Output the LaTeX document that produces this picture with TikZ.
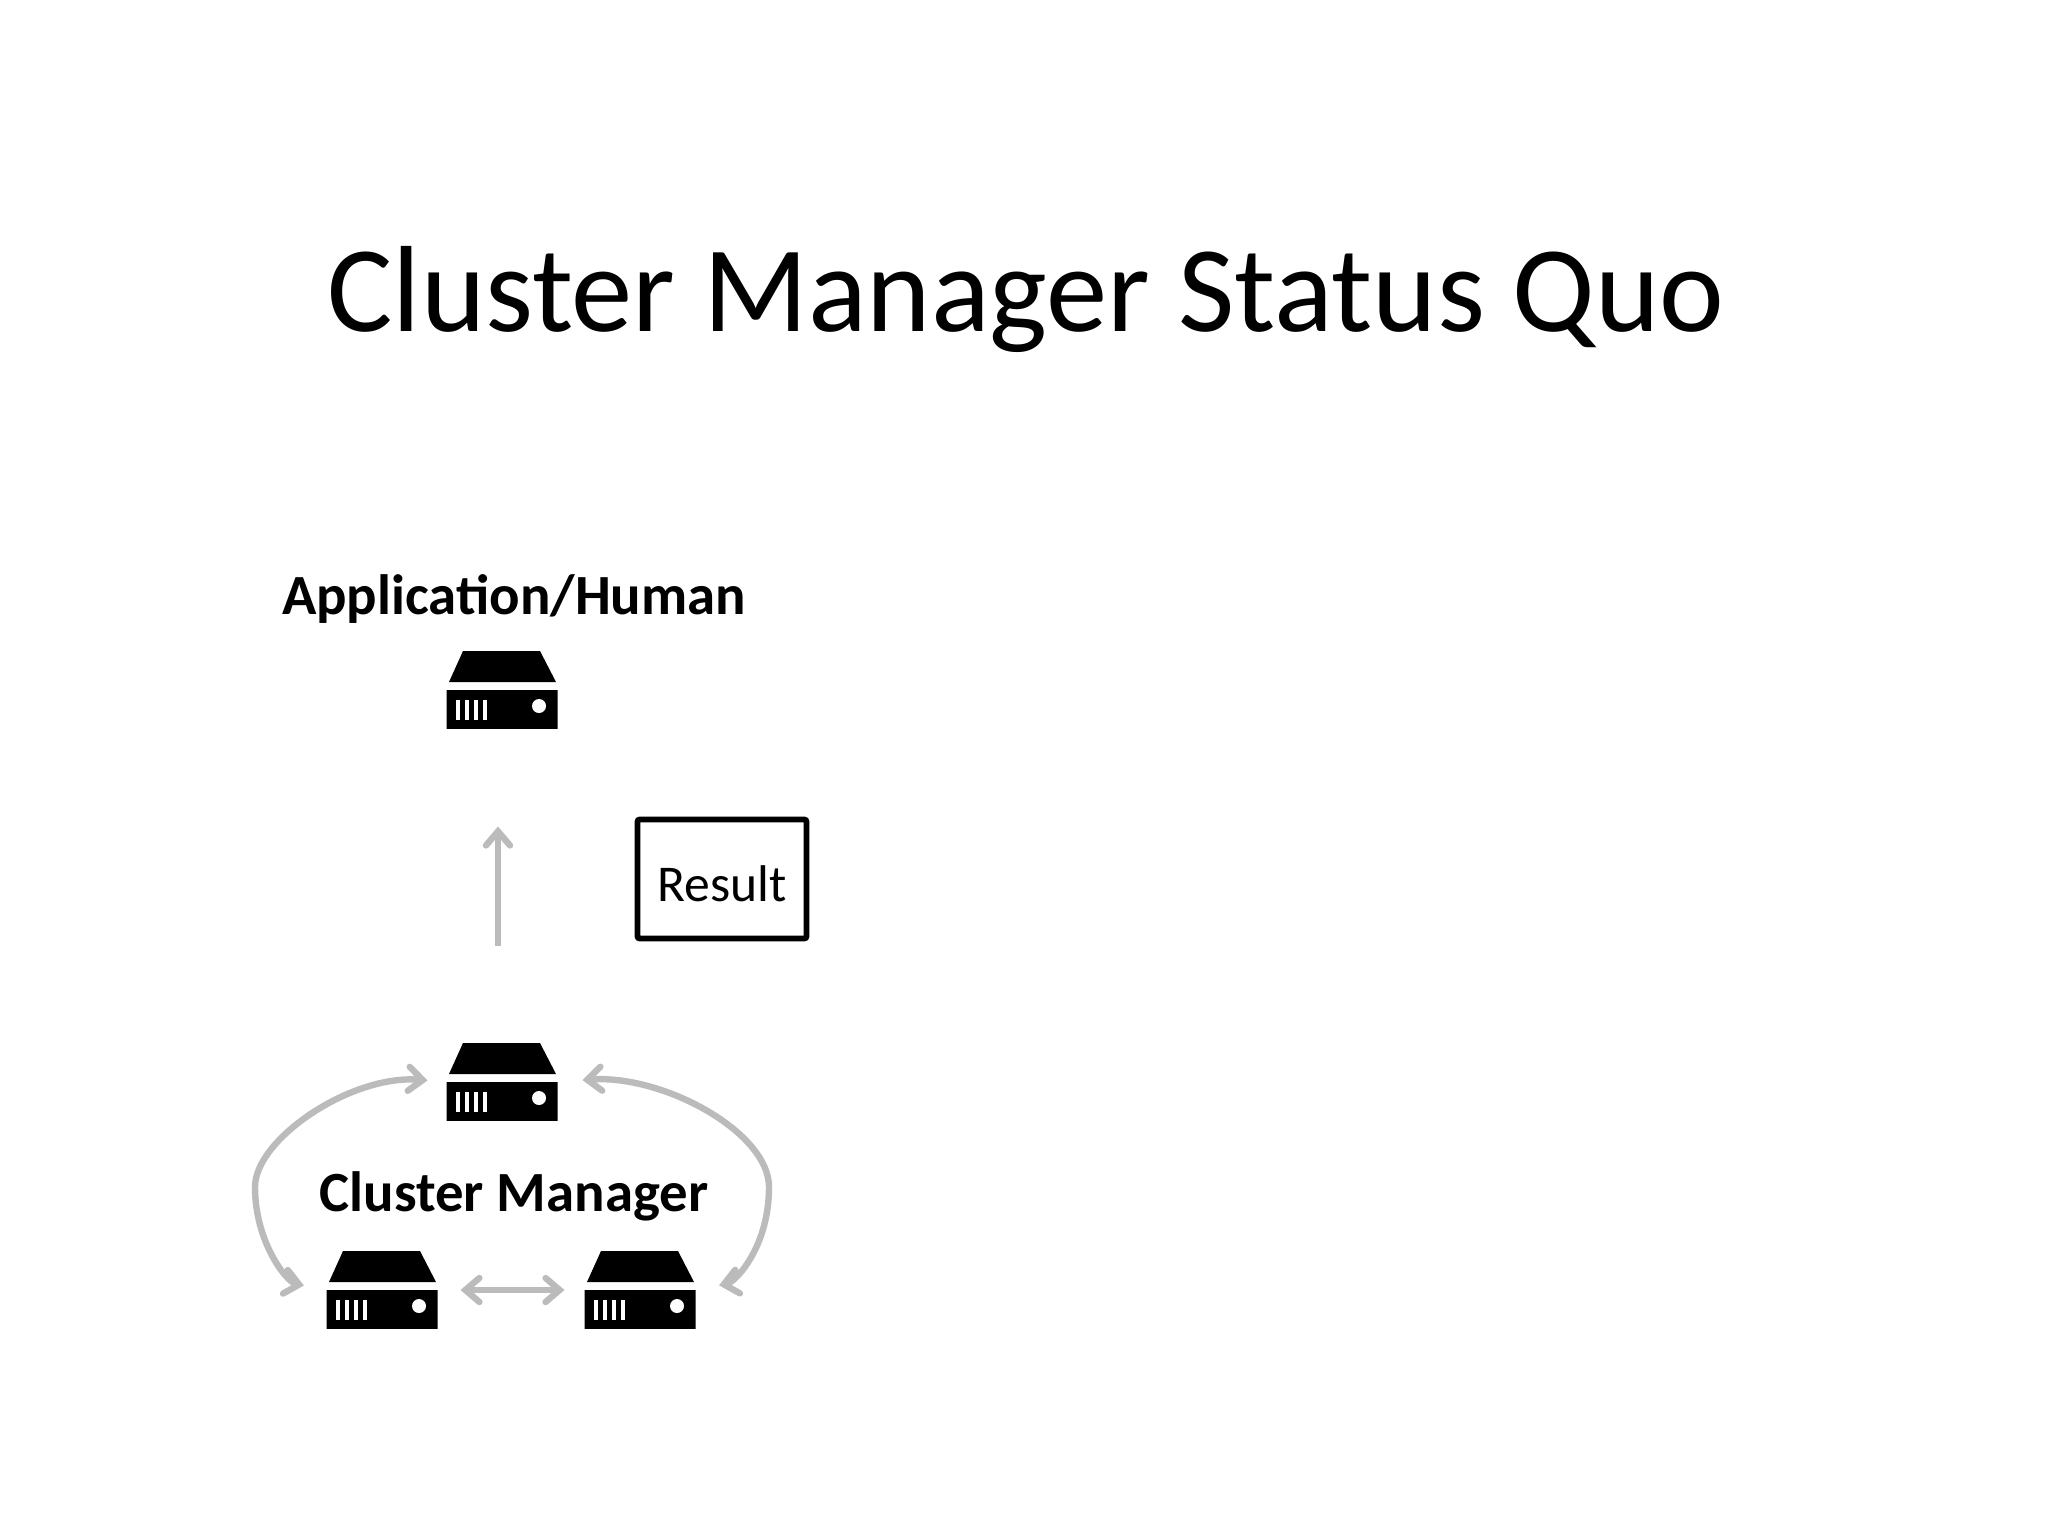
\documentclass[tikz,border=0pt]{standalone}
\usepackage{fontspec}
\setmainfont{Carlito}
\usetikzlibrary{arrows.meta}
\definecolor{FlowGray}{HTML}{BBBBBB}
\tikzset{
  server/.style={inner sep=0pt,outer sep=0pt,minimum width=55.5pt,minimum height=38.5pt,
    path picture={
      \begin{scope}[shift={(path picture bounding box.center)}]
        \fill[black] (-39,-39) -- (38,-39) -- (54,-8) -- (-53,-8) -- cycle;
        \fill[black] (-56,0) rectangle (56,39);
        \foreach \slot in {-46.5,-37.5,-28.5,-19.5} {
          \fill[white] (\slot,10) rectangle ++(4.5,20);
        }
        \fill[white] (37,16) circle (7);
      \end{scope}
    }},
  flow/.style={draw=FlowGray,line width=3.2pt,{Straight Barb[length=7pt,width=12pt,line cap=round]}-{Straight Barb[length=7pt,width=12pt,line cap=round]}},
  oneway/.style={draw=FlowGray,line width=3.2pt,-{Straight Barb[length=7pt,width=12pt,line cap=round]}},
  heading/.style={font=\bfseries\fontsize{28.4}{34}\selectfont,anchor=base,inner sep=0pt}
}
\begin{document}
\begin{tikzpicture}[x=0.5pt,y=-0.5pt]
        \useasboundingbox (0,0) rectangle (2048,1536);
        \node[font=\fontsize{61.3}{73}\selectfont,anchor=base,inner sep=0pt] (title) at (1026,331) {Cluster Manager Status Quo};
        \node[heading] (human) at (514,614) {Application/Human};
        \node[heading] (manager) at (514,1211) {Cluster Manager};
        \node[server] (srvapp) at (502,690) {};
        \node[server] (srvtop) at (502,1082) {};
        \node[server] (srvleft) at (382,1290) {};
        \node[server] (srvright) at (640,1290) {};
        \node[draw=black,line width=2.8pt,rounded corners=1pt,inner sep=0pt,minimum width=84.5pt,minimum height=59.5pt,
              font=\fontsize{25.8}{30}\selectfont,text height=22pt,text depth=0pt] (result) at (722,879) {Result};
        \coordinate (bulgeleft) at (255,1187);
        \coordinate (bulgeright) at (769,1187);
        \draw[oneway,shorten <=49pt,shorten >=49pt] ([xshift=-2pt]srvtop.north) -- ([xshift=-2pt]srvapp.south);
        \draw[flow,shorten <=11.5pt,shorten >=10pt] (srvleft.east) -- (srvright.west);
        \draw[flow,shorten <=11.5pt,shorten >=9.5pt] (srvleft.west) .. controls +(-40,-8) and +(0,55) .. (bulgeleft)
              .. controls +(0,-48) and +(-95,-8) .. (srvtop.west);
        \draw[flow,shorten <=12pt,shorten >=12.5pt] (srvright.east) .. controls +(40,-8) and +(0,60) .. (bulgeright)
              .. controls +(0,-55) and +(105,-8) .. (srvtop.east);
\end{tikzpicture}
\end{document}
